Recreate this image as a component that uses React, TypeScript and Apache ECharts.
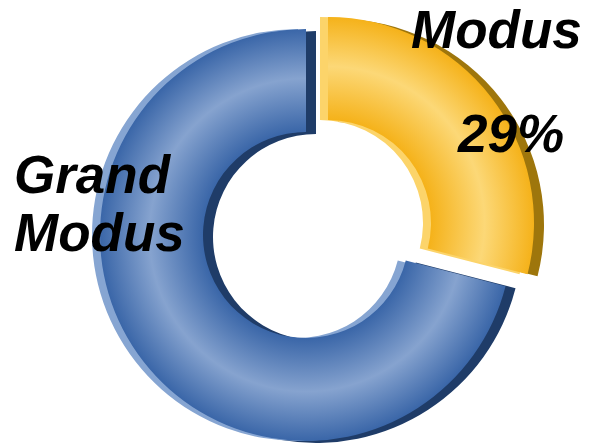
import React, { useEffect, useRef } from "react";
import * as echarts from "echarts";

const categories = ["Modus", "Grand Modus"];
const values = [29, 71];

const CX = 306;
const CY = 235;
const R_IN = 103;
const R_OUT = 206;
const EXPLODE = [22, -12];

const palette = {
  Modus: { dark: "#9e760c", light: "#fcd46a", edge: "#f5b21a", mid: "#fcd877" },
  "Grand Modus": { dark: "#1f3c68", light: "#86a5d2", edge: "#3a66a8", mid: "#86a3cf" },
};

export default function App() {
  const ref = useRef<HTMLDivElement>(null);
  useEffect(() => {
    document.body.style.margin = "0";
    const chart = echarts.init(ref.current!, undefined, { renderer: "svg" });
    const total = values.reduce((a, b) => a + b, 0);

    const layers = [
      { key: "dark", dx: 10, dy: 2, z: 1 },
      { key: "light", dx: -8, dy: 0, z: 2 },
      { key: "front", dx: 0, dy: 0, z: 3 },
    ];

    const series: any[] = [];
    layers.forEach((layer) => {
      categories.forEach((cat, ci) => {
        const off = cat === "Modus" ? EXPLODE : [0, 0];
        const cx = CX + off[0] + layer.dx;
        const cy = CY + off[1] + layer.dy;
        const p = (palette as any)[cat];
        let color: any;
        if (layer.key === "front") {
          color = new echarts.graphic.RadialGradient(
            cx,
            cy,
            R_OUT,
            [
              { offset: 0, color: p.edge },
              { offset: R_IN / R_OUT, color: p.edge },
              { offset: 0.76, color: p.mid },
              { offset: 1, color: p.edge },
            ],
            true
          );
        } else {
          color = p[layer.key];
        }
        series.push({
          type: "pie",
          z: layer.z,
          silent: true,
          center: [cx, cy],
          radius: [R_IN, R_OUT],
          startAngle: 90,
          clockwise: true,
          label: { show: false },
          labelLine: { show: false },
          emphasis: { disabled: true },
          data: categories.map((c, i) => ({
            name: c,
            value: values[i],
            itemStyle: { color: i === ci ? color : "rgba(0,0,0,0)", borderWidth: 0 },
          })),
        });
      });
    });

    const font = {
      fontFamily: "'Liberation Sans', Arial, sans-serif",
      fontWeight: "bold",
      fontStyle: "italic",
      fontSize: 53,
      fill: "#000",
    };
    const pct = Math.round((values[0] / total) * 100) + "%";

    chart.setOption({
      animation: false,
      series,
      graphic: [
        { type: "text", z: 10, left: 411, top: 29 - 26, style: { ...font, text: categories[0], verticalAlign: "top" } },
        { type: "text", z: 10, x: 458, y: 133, style: { ...font, text: pct, verticalAlign: "middle" } },
        {
          type: "text",
          z: 10,
          x: 14,
          y: 203,
          style: { ...font, text: categories[1].replace(" ", "\n"), lineHeight: 58, verticalAlign: "middle" },
        },
      ],
    });
    return () => chart.dispose();
  }, []);
  return <div ref={ref} style={{ width: 591, height: 447 }} />;
}
